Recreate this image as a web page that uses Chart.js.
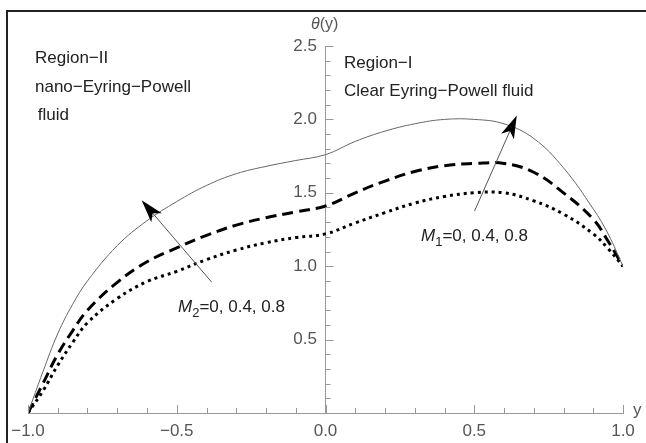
<!DOCTYPE html>
<html>
<head>
<meta charset="utf-8">
<script src="https://cdn.jsdelivr.net/npm/chart.js@4.4.0/dist/chart.umd.min.js"></script>
<style>
  html, body { margin: 0; padding: 0; background: #fff; }
  #wrap { width: 646px; height: 443px; position: relative; }
</style>
</head>
<body>
<div id="wrap"><canvas id="grafica"></canvas></div>
<script>
// valores
const posY = [-1, -0.95, -0.9, -0.85, -0.8, -0.7, -0.6, -0.5, -0.4, -0.3, -0.2, -0.1, 0, 0.1, 0.2, 0.3, 0.4, 0.5, 0.6, 0.7, 0.8, 0.9, 0.95, 1];
const thetaM0 = [0, 0.28, 0.54, 0.74, 0.90, 1.14, 1.31, 1.44, 1.55, 1.63, 1.68, 1.72, 1.76, 1.85, 1.92, 1.97, 2.0, 2.0, 1.97, 1.87, 1.67, 1.39, 1.22, 1.0];
const thetaM04 = [0, 0.20, 0.40, 0.56, 0.70, 0.89, 1.03, 1.125, 1.21, 1.28, 1.33, 1.37, 1.41, 1.50, 1.58, 1.645, 1.685, 1.70, 1.70, 1.64, 1.50, 1.32, 1.17, 1.0];
const thetaM08 = [0, 0.15, 0.325, 0.48, 0.615, 0.78, 0.895, 0.965, 1.045, 1.11, 1.16, 1.195, 1.22, 1.295, 1.365, 1.43, 1.475, 1.50, 1.50, 1.445, 1.355, 1.22, 1.12, 1.0];

// flechas en coordenadas de datos [y, theta]
const flechaM2 = { desde: [-0.3825, 0.891], hasta: [-0.618, 1.449] };
const flechaM1 = { desde: [0.501, 1.376], hasta: [0.643, 2.027] };

const fuente = "'Liberation Sans', Arial, sans-serif";

function puntos(vals) {
  return posY.map((x, i) => ({ x: x, y: vals[i] }));
}

function etiqueta(v) {
  const r = Math.round(v * 10);
  if (r % 5 !== 0) return '';
  const s = Math.abs(v).toFixed(1);
  return v < -0.001 ? '\u2212' + s : s;
}

// dibuja marcas, flechas y textos
const extras = {
  id: 'extras',
  afterDraw(chart) {
    const ctx = chart.ctx;
    const sx = chart.scales.x, sy = chart.scales.y;
    const x0 = sx.getPixelForValue(0);
    const y0 = sy.getPixelForValue(0);
    ctx.save();

    // marco
    ctx.strokeStyle = '#222';
    ctx.lineWidth = 2;
    ctx.beginPath();
    ctx.moveTo(7, 443);
    ctx.lineTo(7, 11);
    ctx.lineTo(646, 11);
    ctx.stroke();

    // marcas hacia dentro
    ctx.strokeStyle = '#999';
    ctx.lineWidth = 1;
    sx.ticks.forEach(t => {
      const p = Math.round(sx.getPixelForValue(t.value)) + 0.5;
      const largo = Math.round(t.value * 10) % 5 === 0 ? 8 : 5;
      ctx.beginPath();
      ctx.moveTo(p, y0);
      ctx.lineTo(p, y0 - largo);
      ctx.stroke();
    });
    sy.ticks.forEach(t => {
      if (t.value <= 0) return;
      const p = Math.round(sy.getPixelForValue(t.value)) + 0.5;
      const largo = Math.round(t.value * 10) % 5 === 0 ? 8 : 5;
      ctx.beginPath();
      ctx.moveTo(x0, p);
      ctx.lineTo(x0 + largo, p);
      ctx.stroke();
    });

    // flechas
    [flechaM2, flechaM1].forEach(f => {
      const ax = sx.getPixelForValue(f.desde[0]), ay = sy.getPixelForValue(f.desde[1]);
      const bx = sx.getPixelForValue(f.hasta[0]), by = sy.getPixelForValue(f.hasta[1]);
      const ang = Math.atan2(by - ay, bx - ax);
      const L = 23, W = 7;
      ctx.strokeStyle = '#555';
      ctx.lineWidth = 1;
      ctx.beginPath();
      ctx.moveTo(ax, ay);
      ctx.lineTo(bx - Math.cos(ang) * 15, by - Math.sin(ang) * 15);
      ctx.stroke();
      const c = Math.cos(ang), s = Math.sin(ang);
      ctx.fillStyle = '#000';
      ctx.beginPath();
      ctx.moveTo(bx, by);
      ctx.lineTo(bx - c * L - s * W, by - s * L + c * W);
      ctx.lineTo(bx - c * (L - 6), by - s * (L - 6));
      ctx.lineTo(bx - c * L + s * W, by - s * L - c * W);
      ctx.closePath();
      ctx.fill();
    });

    // textos
    ctx.fillStyle = '#222';
    ctx.textBaseline = 'middle';
    ctx.textAlign = 'left';
    ctx.font = '17px ' + fuente;
    ctx.fillText('Region\u2212II', 35, 58);
    ctx.fillText('nano\u2212Eyring\u2212Powell', 35, 87);
    ctx.fillText(' fluid', 33, 115);
    ctx.fillText('Region\u2212I', 344, 63);
    ctx.fillText('Clear Eyring\u2212Powell fluid', 344, 91);

    function rotuloM(sub, x, y) {
      ctx.font = 'italic 17px ' + fuente;
      ctx.fillText('M', x, y);
      let w = ctx.measureText('M').width;
      ctx.font = '13px ' + fuente;
      ctx.fillText(sub, x + w, y + 6);
      w += ctx.measureText(sub).width;
      ctx.font = '17px ' + fuente;
      ctx.fillText('=0, 0.4, 0.8', x + w, y);
    }
    rotuloM('2', 178, 307);
    rotuloM('1', 421, 236);

    // nombres de ejes
    ctx.fillStyle = '#555';
    ctx.font = 'italic 16px ' + fuente;
    ctx.fillText('\u03b8', 311, 25);
    const wt = ctx.measureText('\u03b8').width;
    ctx.font = '16px ' + fuente;
    ctx.fillText('(y)', 311 + wt, 25);
    ctx.font = '17px ' + fuente;
    ctx.fillText('y', 633, 410);
    ctx.restore();
  }
};

const ctx = document.getElementById('grafica').getContext('2d');
window.grafica = new Chart(ctx, {
  type: 'scatter',
  data: {
    datasets: [
      {
        label: 'M=0',
        data: puntos(thetaM0),
        showLine: true,
        borderColor: '#666',
        borderWidth: 1,
        pointRadius: 0,
        tension: 0.4
      },
      {
        label: 'M=0.4',
        data: puntos(thetaM04),
        showLine: true,
        borderColor: '#000',
        borderWidth: 3,
        borderDash: [11, 6],
        pointRadius: 0,
        tension: 0.4
      },
      {
        label: 'M=0.8',
        data: puntos(thetaM08),
        showLine: true,
        borderColor: '#000',
        borderWidth: 3,
        borderDash: [3, 4],
        pointRadius: 0,
        tension: 0.4
      }
    ]
  },
  options: {
    responsive: true,
    maintainAspectRatio: false,
    animation: false,
    layout: { padding: { left: 28, right: 23, top: 46, bottom: 0 } },
    plugins: {
      legend: { display: false },
      tooltip: { enabled: false }
    },
    scales: {
      x: {
        type: 'linear',
        min: -1,
        max: 1,
        afterFit: s => { s.height = 30; },
        grid: { display: false, drawTicks: false },
        border: { display: true, color: '#999' },
        ticks: {
          stepSize: 0.1,
          autoSkip: false,
          maxRotation: 0,
          padding: 8,
          color: '#555',
          font: { size: 17, family: fuente },
          callback: v => etiqueta(v)
        }
      },
      y: {
        type: 'linear',
        min: 0,
        max: 2.5,
        position: { x: 0 },
        grid: { display: false },
        border: { display: true, color: '#999' },
        ticks: {
          stepSize: 0.1,
          autoSkip: false,
          padding: 8,
          color: '#555',
          font: { size: 17, family: fuente },
          callback: v => (v > 0.01 && etiqueta(v) ? etiqueta(v) + '\u2002' : '')
        }
      }
    }
  },
  plugins: [extras]
});
</script>
</body>
</html>
